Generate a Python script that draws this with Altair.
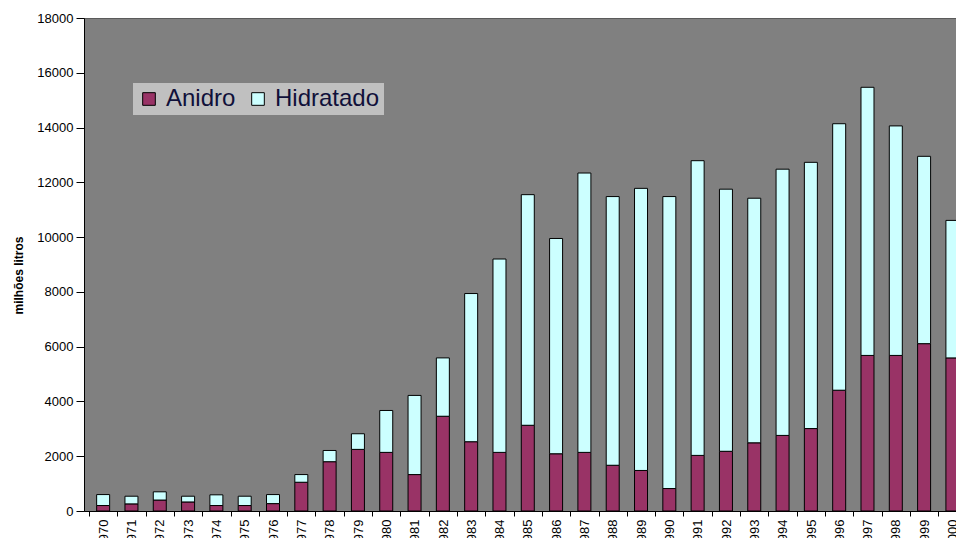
import altair as alt
import pandas as pd

years = list(range(1970, 2001))
anidro = [200, 260, 400, 330, 200, 200, 270, 1050, 1800, 2250, 2140, 1330, 3460, 2530, 2140, 3130,
          2090, 2140, 1670, 1480, 820, 2030, 2180, 2490, 2760, 3010, 4410, 5680, 5680, 6110, 5590]
hidratado = [400, 280, 300, 210, 390, 340, 330, 280, 410, 570, 1530, 2890, 2130, 5410, 7060, 8420,
             7860, 10200, 9810, 10300, 10660, 10760, 9570, 8930, 9720, 9720, 9730, 9790, 8380, 6840, 5020]
series = ["Anidro", "Hidratado"]
colors = ["#993366", "#CCFFFF"]
y_ticks = list(range(0, 18001, 2000))

rows = []
for i, yr in enumerate(years):
    rows.append({"ano": yr, "tipo": "Anidro", "ordem": 0, "valor": anidro[i]})
    rows.append({"ano": yr, "tipo": "Hidratado", "ordem": 1, "valor": hidratado[i]})
df = pd.DataFrame(rows)

x_boundaries = [y - 0.5 for y in years] + [years[-1] + 0.5]

chart = alt.Chart(df).mark_bar(size=13, stroke="black", strokeWidth=1, clip=True).encode(
    x=alt.X("ano:Q",
            scale=alt.Scale(domain=[1969.5, 1999.95], nice=False, zero=False),
            axis=alt.Axis(title=None, values=x_boundaries, labelExpr="format(datum.value + 0.5, 'd')",
                          labelAngle=270, labelOffset=14.3, labelFlush=False, labelOverlap=False,
                          labelFontSize=13, labelColor="black", labelPadding=3,
                          tickSize=5, tickColor="black", domainColor="black", grid=False)),
    y=alt.Y("valor:Q", stack="zero",
            scale=alt.Scale(domain=[0, 18000], nice=False),
            axis=alt.Axis(title="milhões litros", values=y_ticks, format="d",
                          labelFontSize=13, labelColor="black", labelPadding=3,
                          tickSize=8, tickColor="black", domainColor="black", grid=False,
                          titleFontSize=12, titleFontWeight="bold", titleColor="black",
                          titleAngle=270, titleBaseline="middle", titleX=-66, titleY=257)),
    color=alt.Color("tipo:N", scale=alt.Scale(domain=series, range=colors),
                    legend=alt.Legend(title=None, orient="none", legendX=49, legendY=65,
                                      direction="horizontal", fillColor="#c0c0c0", padding=4,
                                      symbolType="square", symbolSize=160, symbolStrokeColor="black",
                                      symbolStrokeWidth=1,
                                      labelFontSize=24, labelColor="#10103a", labelOffset=5,
                                      columnPadding=10)),
    order=alt.Order("ordem:Q"),
).properties(
    width=872, height=493,
    autosize=alt.AutoSizeParams(type="none"),
    padding={"left": 76, "top": 10, "right": 0, "bottom": 27},
).configure(
    font="Liberation Sans"
).configure_view(
    fill="#808080", stroke="#5a5a5a"
)

chart.save("out.html", embed_options={"renderer": "svg", "actions": False})
